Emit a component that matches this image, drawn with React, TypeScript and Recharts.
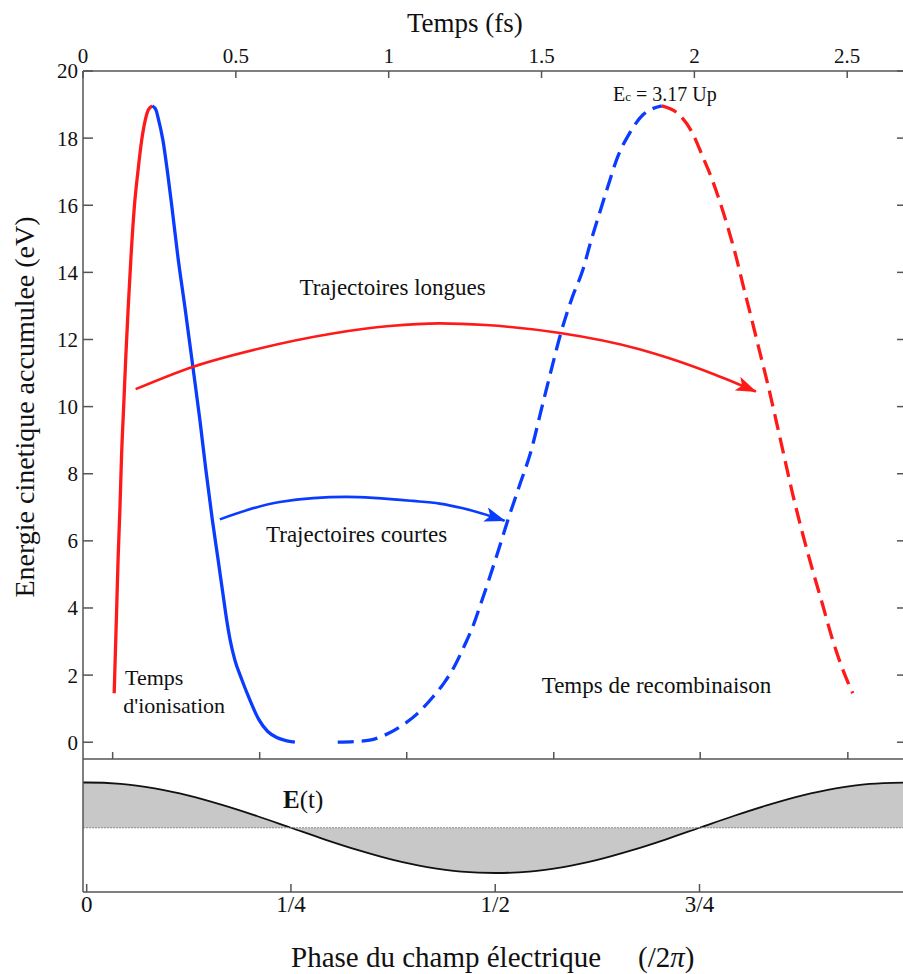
import React from 'react';
import { LineChart, Line, XAxis, YAxis, ComposedChart, Area, ReferenceLine } from 'recharts';

const FONT = '"Liberation Serif", "Times New Roman", serif';
const RED = '#ff1a1a';
const BLUE = '#0a3cff';
const AXIS = '#555555';

// Kinetic energy (eV) versus time (fs)
const longIonisation: [number, number][] = [
  [0.102, 1.46], [0.110, 3.93], [0.115, 5.52], [0.121, 7.01], [0.126, 8.5], [0.133, 9.99],
  [0.140, 11.48], [0.148, 12.97], [0.157, 14.47], [0.168, 15.96], [0.179, 16.95], [0.192, 17.94],
  [0.205, 18.59], [0.2134, 18.84], [0.2265, 18.96],
];
const shortIonisation: [number, number][] = [
  [0.2265, 18.96], [0.2386, 18.84], [0.2461, 18.59], [0.2614, 17.94], [0.2768, 16.96], [0.2908, 15.95],
  [0.3105, 14.46], [0.3333, 12.97], [0.3595, 11.18], [0.3824, 9.6], [0.402, 8.11], [0.4232, 6.62],
  [0.4422, 5.42], [0.4604, 4.25], [0.4699, 3.65], [0.481, 3.06], [0.4964, 2.46], [0.5193, 1.87],
  [0.5455, 1.27], [0.5749, 0.68], [0.6044, 0.32], [0.6338, 0.14], [0.6633, 0.05], [0.693, 0],
];
const shortRecombination: [number, number][] = [
  [0.8333, 0], [0.8889, 0.02], [0.9379, 0.06], [0.9869, 0.21], [1.0458, 0.51], [1.0948, 0.86],
  [1.1438, 1.34], [1.183, 1.79], [1.2157, 2.27], [1.2484, 2.89], [1.2745, 3.43], [1.2974, 4.02],
  [1.352, 5.52], [1.3899, 6.62], [1.4265, 7.61], [1.4663, 8.7], [1.499, 9.9],
  [1.5317, 11.09], [1.5644, 12.23], [1.601, 13.27], [1.635, 14.07], [1.6624, 14.96], [1.6895, 15.76],
  [1.7167, 16.55], [1.7494, 17.45], [1.7876, 18.14], [1.831, 18.69], [1.8935, 18.96],
];
const longRecombination: [number, number][] = [
  [1.8935, 18.96], [1.951, 18.69], [1.9944, 18.14], [2.0271, 17.45], [2.0546, 16.85], [2.0817, 16.15],
  [2.1088, 15.36], [2.1363, 14.47], [2.1578, 13.67], [2.1853, 12.68], [2.2124, 11.68], [2.2395, 10.69],
  [2.267, 9.6], [2.2941, 8.5], [2.3212, 7.41], [2.3539, 6.22], [2.3866, 5.13], [2.42, 4.08],
  [2.4526, 3.04], [2.482, 2.25], [2.518, 1.46],
];
// Annotation arrows (time fs, energy eV)
const longArrow: [number, number][] = [
  [0.1722, 10.52], [0.3605, 11.19], [0.567, 11.71], [0.817, 12.18], [1.0033, 12.4], [1.1667, 12.48],
  [1.317, 12.43], [1.5552, 12.2], [1.8203, 11.71], [1.9183, 11.44], [2.068, 10.95], [2.201, 10.45],
];
const shortArrow: [number, number][] = [
  [0.4477, 6.64], [0.6438, 7.16], [0.8618, 7.31], [1.0794, 7.19], [1.1667, 7.11], [1.2428, 6.97], [1.3791, 6.6],
];

const timeTicks = [0, 0.5, 1, 1.5, 2, 2.5];
const innerTimeTicks = [0.097, 0.578, 1.059, 1.54, 2.019, 2.502];
const energyTicks = [0, 2, 4, 6, 8, 10, 12, 14, 16, 18, 20];

// Electric field (normalised) versus phase (/2pi)
const fieldPhase = [-0.0045, 0, 0.0417, 0.0833, 0.125, 0.1667, 0.2083, 0.25, 0.2917, 0.3333, 0.375, 0.4167,
  0.4583, 0.5, 0.5417, 0.5833, 0.625, 0.6667, 0.7083, 0.75, 0.7917, 0.8333, 0.875, 0.9167, 0.9583, 1.0];
const fieldValue = [1.0, 1.0, 0.97, 0.87, 0.71, 0.5, 0.26, 0, -0.26, -0.5, -0.71, -0.87,
  -0.97, -1.0, -0.97, -0.87, -0.71, -0.5, -0.26, 0, 0.26, 0.5, 0.71, 0.87, 0.97, 1.0];
const phaseTicks = [0, 0.25, 0.5, 0.75];
const phaseLabels = ['0', '1/4', '1/2', '3/4'];

const toData = (pairs: [number, number][]) => pairs.map(([t, e]) => ({ t, e }));
const fieldData = fieldPhase.map((phase, i) => ({ phase, e: fieldValue[i] }));

const tickStyle = { fill: '#111', fontSize: 21, fontFamily: FONT };
const axisLine = { stroke: AXIS, strokeWidth: 1.5 };

export default function App() {
  const common = {
    xAxisId: 'top',
    yAxisId: 'left',
    dataKey: 'e',
    dot: false,
    activeDot: false,
    isAnimationActive: false,
    strokeWidth: 3.3,
    type: 'monotoneX' as const,
  };
  return (
    <div style={{ position: 'absolute', left: 0, top: 0, width: 903, height: 974, overflow: 'hidden', background: '#fff' }}>
      <div style={{ position: 'absolute', left: 0, top: 0 }}>
        <LineChart width={910} height={769} margin={{ top: 0, right: 0, bottom: 0, left: 0 }}>
          <defs>
            <marker id="headRed" markerUnits="userSpaceOnUse" markerWidth="21" markerHeight="15" viewBox="0 0 21 15" refX="20" refY="7.5" orient="auto">
              <path d="M0,0 L21,7.5 L0,15 L5,7.5 Z" fill={RED} />
            </marker>
            <marker id="headBlue" markerUnits="userSpaceOnUse" markerWidth="21" markerHeight="15" viewBox="0 0 21 15" refX="20" refY="7.5" orient="auto">
              <path d="M0,0 L21,7.5 L0,15 L5,7.5 Z" fill={BLUE} />
            </marker>
          </defs>
          <XAxis xAxisId="top" orientation="top" type="number" dataKey="t" domain={[0, 2.689]} allowDataOverflow
            ticks={timeTicks} interval={0} height={71} tickSize={-7} tickMargin={15}
            axisLine={axisLine} tickLine={axisLine} tick={tickStyle} />
          <XAxis xAxisId="bot" orientation="bottom" type="number" dataKey="t" domain={[0, 2.689]} allowDataOverflow
            ticks={innerTimeTicks} interval={0} height={10} tickSize={-7} tickFormatter={() => ''}
            axisLine={axisLine} tickLine={axisLine} />
          <YAxis yAxisId="left" type="number" domain={[-0.5, 20]} allowDataOverflow ticks={energyTicks} interval={0}
            width={83} tickSize={-10} tickMargin={15} axisLine={axisLine} tickLine={axisLine} tick={tickStyle} />
          <YAxis yAxisId="right" orientation="right" type="number" domain={[-0.5, 20]} allowDataOverflow ticks={energyTicks}
            interval={0} width={5} tickSize={-8} tickFormatter={() => ''} axisLine={axisLine} tickLine={axisLine} />
          <Line {...common} data={toData(longIonisation)} stroke={RED} />
          <Line {...common} data={toData(shortIonisation)} stroke={BLUE} />
          <Line {...common} data={toData(shortRecombination)} stroke={BLUE} strokeDasharray="16 8" />
          <Line {...common} data={toData(longRecombination)} stroke={RED} strokeDasharray="16 8" />
          <Line {...common} data={toData(longArrow)} stroke={RED} strokeWidth={2.6} markerEnd="url(#headRed)" />
          <Line {...common} data={toData(shortArrow)} stroke={BLUE} strokeWidth={2.6} markerEnd="url(#headBlue)" />
        </LineChart>
      </div>
      <div style={{ position: 'absolute', left: 0, top: 759 }}>
        <ComposedChart width={910} height={173} data={fieldData} margin={{ top: 0, right: 5, bottom: 0, left: 0 }}>
          <XAxis type="number" dataKey="phase" domain={[-0.0045, 1.0015]} allowDataOverflow ticks={phaseTicks} interval={0}
            height={40} tickSize={-8} tickMargin={12} axisLine={axisLine} tickLine={axisLine}
            tickFormatter={(v: number) => phaseLabels[phaseTicks.indexOf(v)] ?? ''}
            tick={{ fill: '#111', fontSize: 23, fontFamily: FONT }} />
          <YAxis type="number" domain={[-1.42, 1.52]} allowDataOverflow width={83} tick={false} tickLine={false} axisLine={axisLine} />
          <Area type="monotone" dataKey="e" baseValue={0} stroke="#111" strokeWidth={1.8} fill="#c8c8c8" fillOpacity={1}
            isAnimationActive={false} dot={false} activeDot={false} />
          <ReferenceLine y={0} stroke="#8a8a8a" strokeWidth={1.2} strokeDasharray="2 1" />
        </ComposedChart>
      </div>
      <svg width={903} height={974} style={{ position: 'absolute', left: 0, top: 0, pointerEvents: 'none' }} fontFamily={FONT} fill="#111">
        <text x={407} y={31.7} fontSize={27}>Temps (fs)</text>
        <text transform="translate(33.5,407) rotate(-90)" textAnchor="middle" fontSize={28}>Energie cinetique accumulee (eV)</text>
        <text x={613} y={100.7} fontSize={20}>E<tspan fontSize={13}>c</tspan> = 3.17 Up</text>
        <text x={299.4} y={295} fontSize={23}>Trajectoires longues</text>
        <text x={266} y={541.7} fontSize={23}>Trajectoires courtes</text>
        <text x={125} y={685} fontSize={22}>Temps</text>
        <text x={123.3} y={712.7} fontSize={22}>d'ionisation</text>
        <text x={541.7} y={693.3} fontSize={23}>Temps de recombinaison</text>
        <text x={283} y={808} fontSize={25}><tspan fontWeight="bold">E</tspan>(t)</text>
        <text x={291} y={967} fontSize={29}>Phase du champ électrique</text>
        <text x={638} y={967} fontSize={29}>(/2<tspan fontStyle="italic">π</tspan>)</text>
      </svg>
    </div>
  );
}
